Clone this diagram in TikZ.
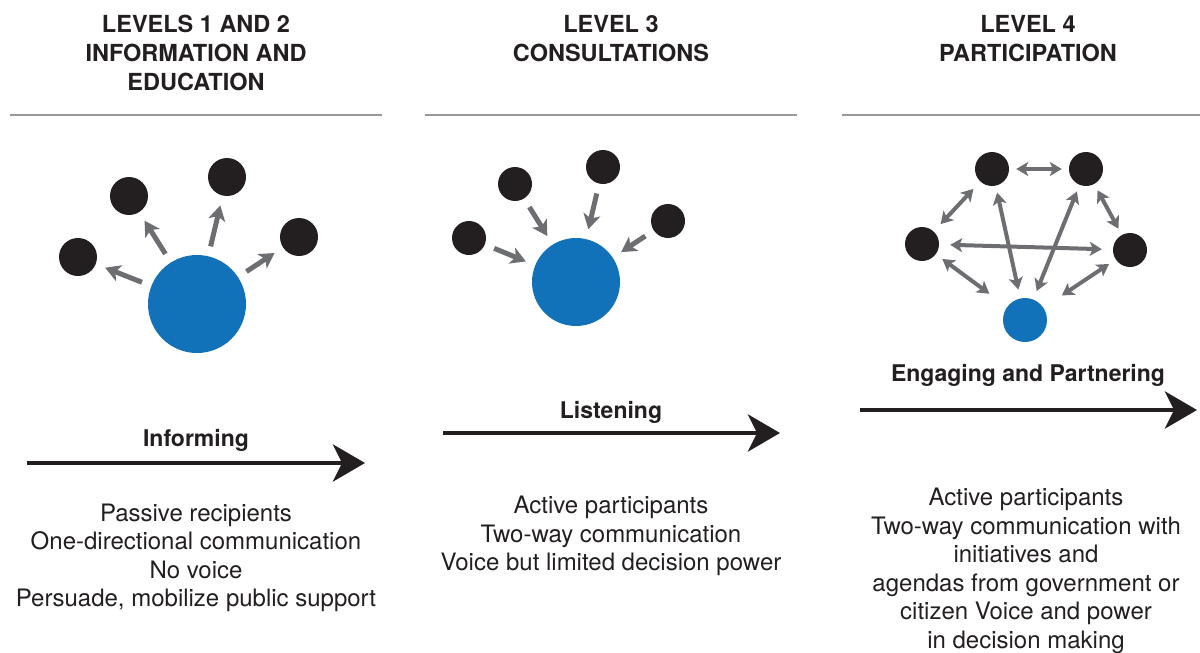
\documentclass[tikz,border=0pt]{standalone}
\usepackage{fontspec}
\setmainfont{TeX Gyre Heros}
\usetikzlibrary{arrows.meta}
\definecolor{hubblue}{RGB}{17,114,186}
\definecolor{dotblack}{RGB}{35,31,32}
\definecolor{arrgray}{RGB}{109,110,113}
\definecolor{rulegray}{RGB}{150,152,155}
\tikzset{
  hub/.style={circle, fill=hubblue, inner sep=0pt},
  person/.style={circle, fill=dotblack, inner sep=0pt},
  ga/.style={draw=arrgray, line width=5pt, -{Stealth[length=15pt,width=17pt,inset=4pt]}, shorten <=10pt, shorten >=10pt},
  gda/.style={draw=arrgray, line width=4pt, {Stealth[length=12pt,width=14pt,inset=3pt]}-{Stealth[length=12pt,width=14pt,inset=3pt]}, shorten <=7pt, shorten >=7pt},
  flow/.style={draw=dotblack, line width=4.5pt, -{Stealth[length=32pt,width=37pt,inset=9pt]}},
  head/.style={font=\bfseries\fontsize{23.5}{29}\selectfont, text=dotblack, align=center},
  body/.style={font=\fontsize{24}{28.5}\selectfont, text=dotblack, align=center},
  lbl/.style={font=\bfseries\fontsize{23}{28}\selectfont, text=dotblack}
}
\begin{document}
\begin{tikzpicture}[x=1pt,y=-1pt]
\useasboundingbox (0,0) rectangle (1200,653);
% headings
\node[head] (h1) at (196,53){LEVELS 1 AND 2\\INFORMATION AND\\EDUCATION};
\node[head] (h2) at (611,38.5){LEVEL 3\\CONSULTATIONS};
\node[head] (h3) at (1028,38.5){LEVEL 4\\PARTICIPATION};
\draw[rulegray, line width=1.3pt] (10,115) -- (382,115);
\draw[rulegray, line width=1.3pt] (425,115) -- (797,115);
\draw[rulegray, line width=1.3pt] (842,115) -- (1200,115);
% informing
\node[hub, minimum size=98pt] (hub1) at (197,304){};
\node[person, minimum size=38pt] (p11) at (78,257){};
\node[person, minimum size=38pt] (p12) at (129,196){};
\node[person, minimum size=38pt] (p13) at (227,177){};
\node[person, minimum size=38pt] (p14) at (299,237){};
\draw[ga](hub1) -- (p11);
\draw[ga](hub1) -- (p12);
\draw[ga](hub1) -- (p13);
\draw[ga](hub1) -- (p14);
% listening
\node[hub, minimum size=88pt] (hub2) at (576,282){};
\node[person, minimum size=34pt] (p21) at (469,238){};
\node[person, minimum size=34pt] (p22) at (515,184){};
\node[person, minimum size=34pt] (p23) at (603,167){};
\node[person, minimum size=34pt] (p24) at (668,221){};
\draw[ga](p21) -- (hub2);
\draw[ga](p22) -- (hub2);
\draw[ga](p23) -- (hub2);
\draw[ga](p24) -- (hub2);
% partnering
\node[hub, minimum size=44pt] (hub3) at (1025,320){};
\node[person, minimum size=34pt] (p31) at (992,169){};
\node[person, minimum size=34pt] (p32) at (1086,169){};
\node[person, minimum size=34pt] (p33) at (922,244){};
\node[person, minimum size=34pt] (p34) at (1130,250){};
\draw[gda](p31) -- (p32);
\draw[gda, shorten <=10pt, shorten >=10pt](p31) -- (p33);
\draw[gda](p32) -- (p34);
\draw[gda, shorten <=11pt, shorten >=11pt](p33) -- (p34);
\draw[gda, shorten <=8pt, shorten >=22pt](p33) -- (hub3);
\draw[gda, shorten <=8pt, shorten >=22pt](p34) -- (hub3);
\draw[gda, shorten >=9pt](p31) -- (hub3);
\draw[gda, shorten >=9pt](p32) -- (hub3);
% flow arrows
\coordinate (f1s) at (27,463);
\coordinate (f1e) at (365,463);
\coordinate (f2s) at (443,433);
\coordinate (f2e) at (780,433);
\coordinate (f3s) at (860,410);
\coordinate (f3e) at (1197,410);
\draw[flow](f1s) -- (f1e);
\draw[flow](f2s) -- (f2e);
\draw[flow](f3s) -- (f3e);
\node[lbl] (l1) at (196,440){Informing};
\node[lbl] (l2) at (611,412){Listening};
\node[lbl] (l3) at (1028,375){Engaging and Partnering};
% descriptions
\node[body] (d1) at (196,558){Passive recipients\\One-directional communication\\No voice\\Persuade, mobilize public support};
\node[body] (d2) at (611,536){Active participants\\Two-way communication\\Voice but limited decision power};
\node[body] (d3) at (1026,571){Active participants\\Two-way communication with\\initiatives and\\agendas from government or\\citizen Voice and power\\in decision making};
\end{tikzpicture}
\end{document}
